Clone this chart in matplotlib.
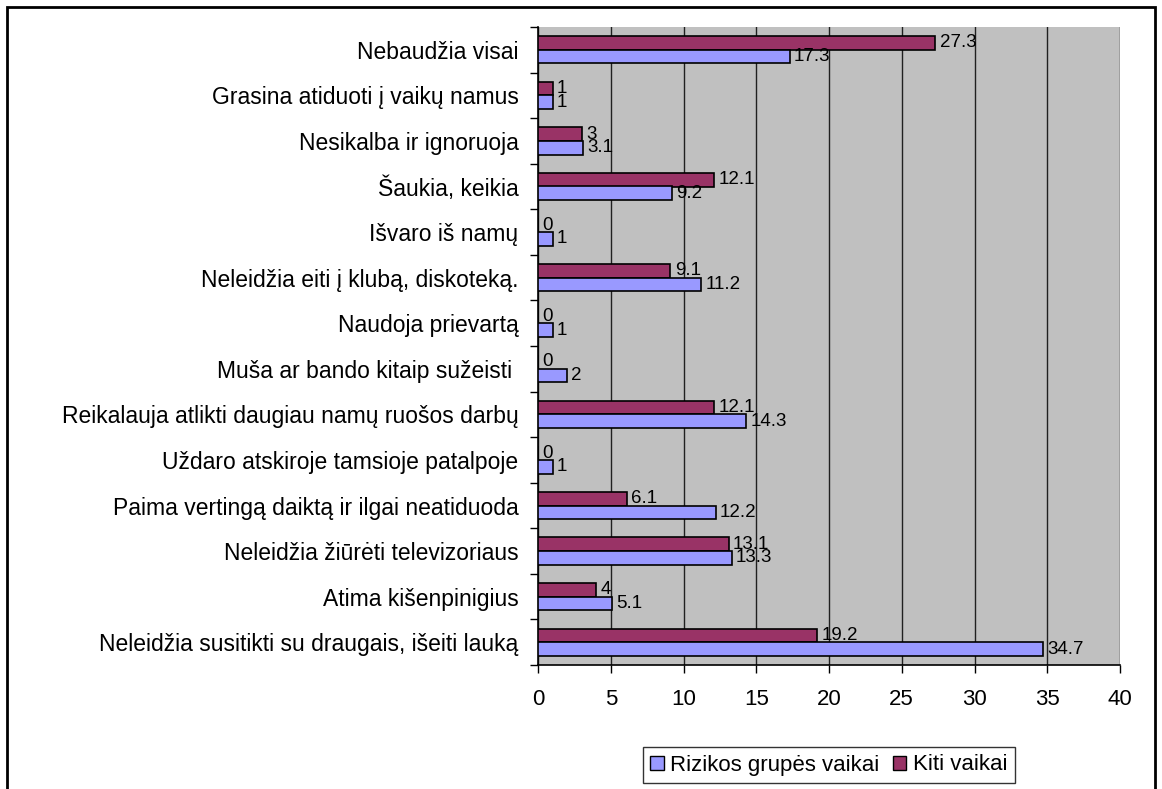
import matplotlib.pyplot as plt
import matplotlib.patches as mpatches
import numpy as np

plt.rcParams['font.family'] = ['Liberation Sans', 'DejaVu Sans']

# categories from top to bottom
categories = [
    'Nebaudžia visai',
    'Grasina atiduoti į vaikų namus',
    'Nesikalba ir ignoruoja',
    'Šaukia, keikia',
    'Išvaro iš namų',
    'Neleidžia eiti į klubą, diskoteką.',
    'Naudoja prievartą',
    'Muša ar bando kitaip sužeisti ',
    'Reikalauja atlikti daugiau namų ruošos darbų',
    'Uždaro atskiroje tamsioje patalpoje',
    'Paima vertingą daiktą ir ilgai neatiduoda',
    'Neleidžia žiūrėti televizoriaus',
    'Atima kišenpinigius',
    'Neleidžia susitikti su draugais, išeiti lauką',
]
rizikos = [17.3, 1, 3.1, 9.2, 1, 11.2, 1, 2, 14.3, 1, 12.2, 13.3, 5.1, 34.7]
kiti = [27.3, 1, 3, 12.1, 0, 9.1, 0, 0, 12.1, 0, 6.1, 13.1, 4, 19.2]
x_ticks = [0, 5, 10, 15, 20, 25, 30, 35, 40]

col_riz = '#9999FF'
col_kiti = '#993366'

fig = plt.figure(figsize=(11.62, 7.89), dpi=100)
ax = fig.add_axes([538 / 1162, 1 - 665 / 789, (1120 - 538) / 1162, (665 - 27) / 789])

n = len(categories)
pos = np.arange(n)[::-1].astype(float)
h = 0.3

ax.barh(pos + h / 2, kiti, height=h, color=col_kiti, edgecolor='black', linewidth=1.2, zorder=3)
ax.barh(pos - h / 2, rizikos, height=h, color=col_riz, edgecolor='black', linewidth=1.2, zorder=3)

def fmt(v):
    return str(int(v)) if float(v).is_integer() else str(v)

for p, v in zip(pos, kiti):
    ax.text(v + 0.3, p + h / 2, fmt(v), va='center', ha='left', fontsize=13.5, zorder=4)
for p, v in zip(pos, rizikos):
    ax.text(v + 0.3, p - h / 2, fmt(v), va='center', ha='left', fontsize=13.5, zorder=4)

ax.set_xlim(0, 40)
ax.set_ylim(-0.5, n - 0.5)
ax.set_facecolor('#C0C0C0')
ax.set_xticks(x_ticks)
ax.set_xticklabels([str(t) for t in x_ticks], fontsize=16)
ax.tick_params(axis='x', length=6, width=1, direction='out', pad=11)
ax.xaxis.grid(True, color='#202020', linewidth=1, zorder=0)
ax.set_axisbelow(True)

ax.set_yticks(pos)
ax.set_yticklabels(categories, fontsize=16.5)
ax.tick_params(axis='y', which='major', length=0, pad=14)
ax.set_yticks(np.arange(n + 1) - 0.5, minor=True)
ax.tick_params(axis='y', which='minor', length=6, width=1, direction='out')

for s in ['top', 'right']:
    ax.spines[s].set_visible(False)
ax.spines['left'].set_linewidth(1.2)
ax.spines['bottom'].set_linewidth(1.2)

# legend in the original order
handles = [mpatches.Patch(facecolor=col_riz, edgecolor='black'),
           mpatches.Patch(facecolor=col_kiti, edgecolor='black')]
leg = fig.legend(handles, ['Rizikos grupės vaikai', 'Kiti vaikai'], ncol=2,
                 loc='center', bbox_to_anchor=(829 / 1162, 1 - 765 / 789),
                 fontsize=16, frameon=True, fancybox=False, edgecolor='black',
                 handlelength=0.6, handleheight=0.6, handletextpad=0.3, columnspacing=0.6,
                 borderpad=0.35)
leg.get_frame().set_linewidth(1)

# outer chart frame
fig.patches.append(mpatches.Rectangle((7 / 1162, -0.05), (1155 - 7) / 1162, 1 - 7 / 789 + 0.05,
                                      transform=fig.transFigure, fill=False,
                                      edgecolor='black', linewidth=2))

fig.savefig('out.png', dpi=100)
